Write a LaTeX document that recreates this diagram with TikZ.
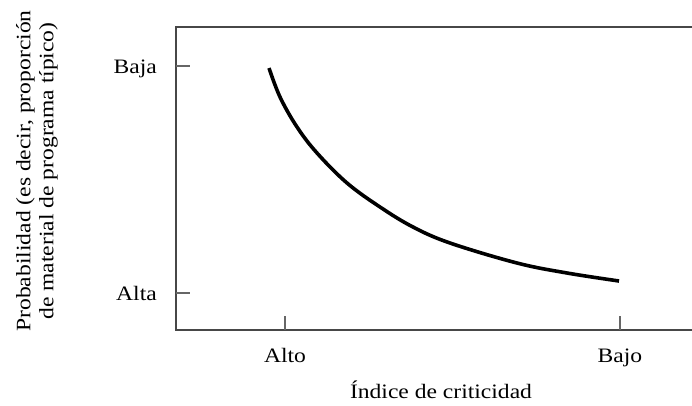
\documentclass[tikz,border=0pt]{standalone}
\usepackage{fontspec}
\setmainfont[FakeStretch=1.15]{Liberation Serif}
\begin{document}
\begin{tikzpicture}[x=1pt,y=-1pt,
  axisline/.style={draw=black!72, line width=1.4pt},
  tickline/.style={draw=black!60, line width=1.2pt},
  lbl/.style={font=\fontsize{20.5}{23}\selectfont, inner sep=0pt}]
\useasboundingbox (0,0) rectangle (692,405);
% frame
\draw[axisline] (692,27) -- (176,27) -- (176,330) -- (692,330);
% ticks
\draw[tickline] (176,66) -- (190,66);
\draw[tickline] (176,293) -- (190,293);
\draw[tickline] (285,330) -- (285,316);
\draw[tickline] (620,330) -- (620,316);
% curve
\draw[line width=3.6pt, line cap=butt] plot[smooth, tension=0.6] coordinates {
  (269,68) (280,97) (297,127) (317,153) (347,183) (380,207) (413,227)
  (450,243) (517,263) (567,273) (619,281)};
% labels
\node[lbl, anchor=base east] (baja) at (157,73) {Baja};
\node[lbl, anchor=base east] (alta) at (157,300) {Alta};
\node[lbl, anchor=base] (alto) at (285,362) {Alto};
\node[lbl, anchor=base] (bajo) at (620,362) {Bajo};
\node[lbl, anchor=base] (xlab) at (441,398) {Índice de criticidad};
\node[lbl, rotate=90, align=center] (ylab) at (37,171)
  {Probabilidad (es decir, proporción\\de material de programa típico)};
\end{tikzpicture}
\end{document}
